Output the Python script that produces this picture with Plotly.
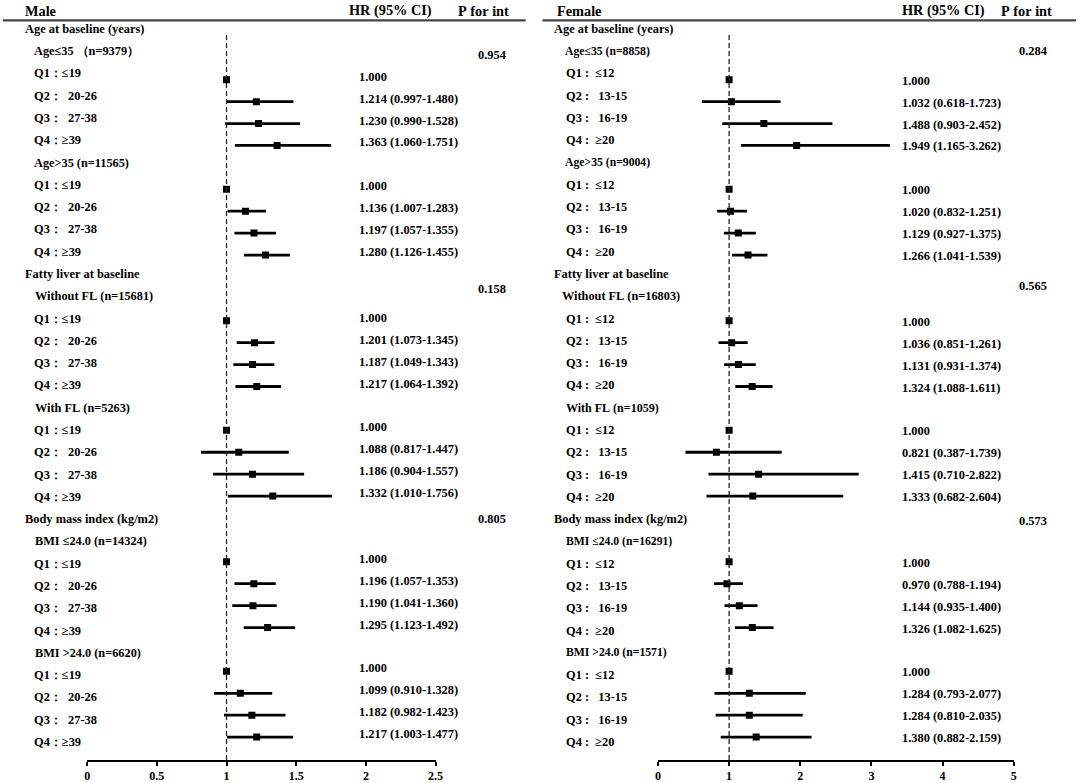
import plotly.graph_objects as go

# --- data ---
sections = ["Age at baseline (years)", "Fatty liver at baseline", "Body mass index (kg/m2)"]

male_groups = ["Age≤35 （n=9379）", "Age>35 (n=11565)",
               "Without FL (n=15681)", "With FL (n=5263)",
               "BMI ≤24.0 (n=14324)", "BMI >24.0 (n=6620)"]
female_groups = ["Age≤35 (n=8858)", "Age>35 (n=9004)",
                 "Without FL (n=16803)", "With FL (n=1059)",
                 "BMI ≤24.0 (n=16291)", "BMI >24.0 (n=1571)"]

male_quartiles = ["Q1：≤19", "Q2：  20-26", "Q3：  27-38", "Q4：≥39"]
female_quartiles = ["Q1 :  ≤12", "Q2 :   13-15", "Q3 :   16-19", "Q4 :  ≥20"]

# HR and 95% CI, 6 subgroups x 4 quartiles (Q1 is the reference)
male_hr = [1.000, 1.214, 1.230, 1.363,
           1.000, 1.136, 1.197, 1.280,
           1.000, 1.201, 1.187, 1.217,
           1.000, 1.088, 1.186, 1.332,
           1.000, 1.196, 1.190, 1.295,
           1.000, 1.099, 1.182, 1.217]
male_lo = [1.000, 0.997, 0.990, 1.060,
           1.000, 1.007, 1.057, 1.126,
           1.000, 1.073, 1.049, 1.064,
           1.000, 0.817, 0.904, 1.010,
           1.000, 1.057, 1.041, 1.123,
           1.000, 0.910, 0.982, 1.003]
male_hi = [1.000, 1.480, 1.528, 1.751,
           1.000, 1.283, 1.355, 1.455,
           1.000, 1.345, 1.343, 1.392,
           1.000, 1.447, 1.557, 1.756,
           1.000, 1.353, 1.360, 1.492,
           1.000, 1.328, 1.423, 1.477]
male_p = ["0.954", "0.158", "0.805"]

female_hr = [1.000, 1.032, 1.488, 1.949,
             1.000, 1.020, 1.129, 1.266,
             1.000, 1.036, 1.131, 1.324,
             1.000, 0.821, 1.415, 1.333,
             1.000, 0.970, 1.144, 1.326,
             1.000, 1.284, 1.284, 1.380]
female_lo = [1.000, 0.618, 0.903, 1.165,
             1.000, 0.832, 0.927, 1.041,
             1.000, 0.851, 0.931, 1.088,
             1.000, 0.387, 0.710, 0.682,
             1.000, 0.788, 0.935, 1.082,
             1.000, 0.793, 0.810, 0.882]
female_hi = [1.000, 1.723, 2.452, 3.262,
             1.000, 1.251, 1.375, 1.539,
             1.000, 1.261, 1.374, 1.611,
             1.000, 1.739, 2.822, 2.604,
             1.000, 1.194, 1.400, 1.625,
             1.000, 2.077, 2.035, 2.159]
female_p = ["0.284", "0.565", "0.573"]

male_ticks = [0, 0.5, 1, 1.5, 2, 2.5]
female_ticks = [0, 1, 2, 3, 4, 5]

# --- layout helpers (pixels of the 1084 x 783 page) ---
W, H, PLOT_H = 1084, 783, 762
FONT = "Liberation Serif"


def px_x(p):
    return p / W


def px_y(p):
    return (PLOT_H - p) / PLOT_H


def nb(s):
    return s.replace(" ", "\u00a0")


# row index of every line of the table
section_rows = [11 * s for s in range(3)]
group_rows = [11 * (g // 2) + 1 + 5 * (g % 2) for g in range(6)]
quart_rows = [group_rows[g] + 1 + q for g in range(6) for q in range(4)]

fig = go.Figure()
annotations = []
shapes = []


def text(x, y, s, size=12.4, yref="y", xanchor="left", yshift=0):
    annotations.append(dict(
        x=x, y=y, xref="paper", yref=yref, text=nb(s), showarrow=False,
        xanchor=xanchor, yanchor="middle", yshift=yshift,
        font=dict(family=FONT, size=size, color="black", weight="bold")))


panels = [
    dict(name="Male", xa="x", groups=male_groups, quarts=male_quartiles,
         hr=male_hr, lo=male_lo, hi=male_hi, p=male_p,
         x_sec=20.7, x_grp=[29.3, 29.3, 30.7, 30.7, 30.7, 30.7], x_q=29.3,
         grp_size=[12.3] * 6, x_hr=357.3, hr_shift=3, x_p=510,
         p_rows=[1.15, 11.65, 22.0], x_title=20.7, x_hrhead=347.7,
         x_phead=458, line=(0, 528)),
    dict(name="Female", xa="x2", groups=female_groups, quarts=female_quartiles,
         hr=female_hr, lo=female_lo, hi=female_hi, p=female_p,
         x_sec=555, x_grp=[566, 566, 563, 566.7, 566.7, 566.7], x_q=566.7,
         grp_size=[11.7, 11.7, 12.3, 12.0, 11.7, 11.7], x_hr=906, hr_shift=-1,
         x_p=1056.7, p_rows=[1.0, 11.55, 22.1], x_title=558,
         x_hrhead=906, x_phead=1006.7, line=(545, 1084)),
]

for pn in panels:
    hr, lo, hi = pn["hr"], pn["lo"], pn["hi"]
    fig.add_trace(go.Scatter(
        x=hr, y=quart_rows, xaxis=pn["xa"], yaxis="y2", mode="markers",
        marker=dict(symbol="square", size=7, color="black"),
        error_x=dict(type="data", symmetric=False,
                     array=[h - m for h, m in zip(hi, hr)],
                     arrayminus=[m - l for m, l in zip(hr, lo)],
                     thickness=2.8, width=0, color="black"),
        showlegend=False, hoverinfo="skip"))

    # headers
    text(px_x(pn["x_title"]), px_y(11), pn["name"], size=14.3, yref="paper")
    text(px_x(pn["x_hrhead"]), px_y(11), "HR (95% CI)", size=14.3, yref="paper")
    text(px_x(pn["x_phead"]), px_y(11), "P for int", size=14.3, yref="paper")
    shapes.append(dict(type="line", xref="paper", yref="paper",
                       x0=px_x(pn["line"][0]), x1=px_x(pn["line"][1]),
                       y0=px_y(20.5), y1=px_y(20.5),
                       line=dict(color="#444", width=2.2)))

    for s, r in enumerate(section_rows):
        text(px_x(pn["x_sec"]), r, sections[s])
        text(px_x(pn["x_p"]), pn["p_rows"][s], pn["p"][s], xanchor="right")
    for g, r in enumerate(group_rows):
        text(px_x(pn["x_grp"][g]), r, pn["groups"][g], size=pn["grp_size"][g])
    for i, r in enumerate(quart_rows):
        text(px_x(pn["x_q"]), r, pn["quarts"][i % 4])
        if i % 4 == 0:
            s = f"{hr[i]:.3f}"
        else:
            s = f"{hr[i]:.3f} ({lo[i]:.3f}-{hi[i]:.3f})"
        text(px_x(pn["x_hr"]), r, s, yref="y2", yshift=pn["hr_shift"])

    # reference line at HR = 1
    shapes.append(dict(type="line", xref=pn["xa"], yref="paper", x0=1, x1=1,
                       y0=0, y1=px_y(33),
                       line=dict(color="#222", width=1.3, dash="5px,3px")))

axis_style = dict(showgrid=False, zeroline=False, showline=True, linecolor="black",
                  linewidth=2, ticks="outside", ticklen=4, tickwidth=2,
                  tickcolor="black", anchor="y",
                  tickfont=dict(family=FONT, size=12, color="black", weight="bold"))

fig.update_layout(
    width=W, height=H,
    margin=dict(l=0, r=0, t=0, b=H - PLOT_H),
    paper_bgcolor="white", plot_bgcolor="white",
    hovermode=False,
    xaxis=dict(domain=[px_x(85), px_x(437)], range=[0, 2.5],
               tickvals=male_ticks, ticktext=[f"{v:g}" for v in male_ticks],
               **axis_style),
    xaxis2=dict(domain=[px_x(661.7), px_x(1021)], range=[0, 5],
                tickvals=female_ticks, ticktext=[f"{v:g}" for v in female_ticks],
                **axis_style),
    yaxis=dict(range=[(PLOT_H - 29) / 22.34, -29 / 22.34], visible=False),
    yaxis2=dict(range=[(PLOT_H - 36) / 21.97, -36 / 21.97], visible=False,
                overlaying="y"),
    annotations=annotations,
    shapes=shapes,
)

# the page's default 8px body margin would push the figure off the window
fig.write_html("out.html", config={"displayModeBar": False},
               post_script="document.body.style.margin = '0px';")
